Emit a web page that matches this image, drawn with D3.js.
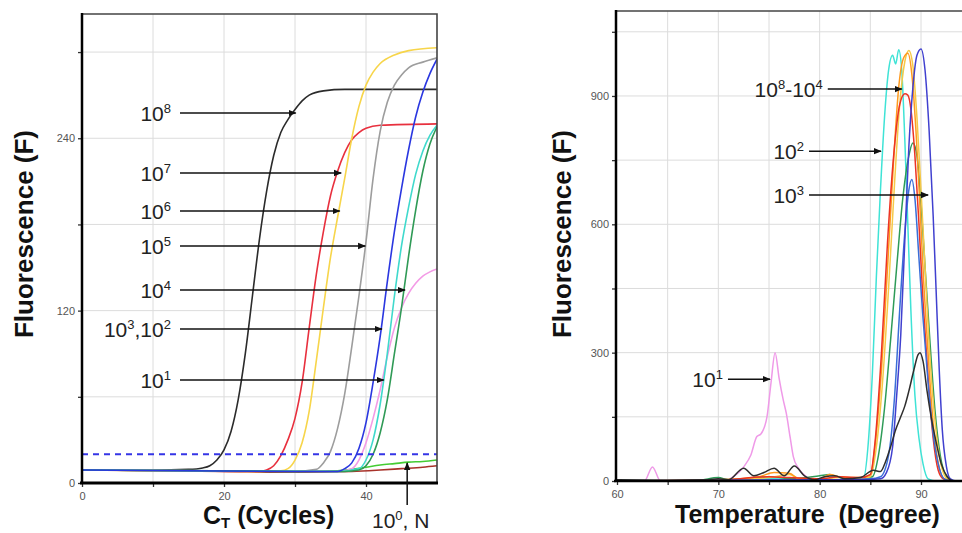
<!DOCTYPE html>
<html><head><meta charset="utf-8">
<script src="https://cdn.jsdelivr.net/npm/d3@7"></script>
<style>body{margin:0;background:#fff}svg{display:block}</style>
</head><body>
<svg id="c" width="962" height="533"></svg>
<script>
// ---------------- LEFT PANEL DATA (cycle, fluorescence) ----------------
const ampBlack  = [[0,9],[10,9],[15,9.5],[17,10.5],[18,12],[19,16],[20,23],[21,36],[22,58],[23,90],[24,130],[25,170],[26,203],[27,228],[28,244],[29,253],[30,260],[31,266],[32,270],[34,273],[37,274],[50,274]];
const ampRed    = [[0,9],[15,8.5],[25,8],[26,9],[27,12],[28,19],[29,30],[30,45],[31,70],[32,108],[33,145],[34,175],[35,200],[36,217],[37,230],[38,239],[39,244],[40,247],[42,249],[50,250]];
const ampYellow = [[0,9],[25,8],[28,8.5],[29,10],[30,16],[31,28],[32,50],[33,85],[34,122],[35,157],[36,185],[37,212],[38,240],[39,262],[40,277],[41,286],[42,292],[44,298],[46,301],[50,303]];
const ampGray   = [[0,9],[30,8],[33,9.5],[34,14],[35,22],[36,38],[37,62],[38,95],[39,130],[40,168],[41,212],[42,245],[43,265],[44,277],[45,284],[46,289],[48,293],[50,296]];
const ampBlue   = [[0,9],[30,8],[36,8],[37,10],[38,14],[39,24],[40,42],[41,70],[42,102],[43,140],[44,175],[45,205],[46,232],[47,255],[48,272],[49,285],[50,295]];
const ampPink   = [[0,9],[36,8],[38,10],[39,16],[40,28],[41,45],[42,65],[43,88],[44,108],[45,122],[46,132],[47,139],[48,144],[49,147],[50,149]];
const ampCyan   = [[0,9],[36,8],[39,10],[40,16],[41,30],[42,55],[43,90],[44,130],[45,165],[46,192],[47,215],[48,231],[49,242],[50,249]];
const ampGreen  = [[0,9],[37,8],[39,9],[40,12],[41,20],[42,35],[43,58],[44,90],[45,122],[46,158],[47,190],[48,217],[49,236],[50,248]];
const ampLime   = [[0,9],[30,8],[36,8.5],[38,9.5],[40,11],[42,12.5],[44,13.5],[46,14.5],[48,15],[50,16]];
const ampBrown  = [[0,9],[20,8],[30,7.5],[38,8],[42,9],[45,10],[48,11],[50,12]];
const threshold = 20;
const leftXTicks = [0,10,20,30,40];
const leftXLabels = [0,20,40];
const leftYTicks = [0,60,120,180,240,300];
const leftYLabels = [0,120,240];

// ---------------- RIGHT PANEL DATA (temperature, fluorescence) ----------------
const meltCyan   = [[60,2],[65,0],[70,3],[75,5],[80,3],[83,2],[84.3,5],[84.8,90],[85.2,250],[85.6,480],[86.0,680],[86.4,850],[86.8,960],[87.2,995],[87.5,975],[87.8,1008],[88.1,960],[88.4,800],[88.7,600],[89.0,400],[89.4,200],[89.8,100],[90.2,40],[90.7,5],[91.5,0],[94.5,0]];
const meltYellow = [[60,0],[70,2],[75,8],[77,15],[78,5],[80,3],[82,8],[84,5],[85.0,10],[85.6,80],[86.2,230],[86.8,450],[87.4,700],[87.9,880],[88.4,980],[88.8,1006],[89.2,970],[89.6,850],[90.0,680],[90.4,500],[90.8,320],[91.3,160],[91.8,60],[92.4,10],[93,0],[94.5,0]];
const meltOrange = [[60,0],[70,3],[74,10],[75.5,20],[77,18],[78,5],[80,5],[81,15],[82,10],[84,8],[85.0,15],[85.5,90],[86.1,260],[86.7,500],[87.3,750],[87.8,920],[88.3,990],[88.7,1000],[89.1,950],[89.5,820],[89.9,640],[90.3,450],[90.8,260],[91.3,110],[91.8,30],[92.3,5],[93,0],[94.5,0]];
const meltRed    = [[60,0],[70,2],[75,10],[77,8],[80,5],[82,10],[84,8],[85.0,15],[85.5,100],[86.1,300],[86.7,560],[87.3,760],[87.9,880],[88.4,905],[88.7,902],[89.0,870],[89.4,760],[89.8,600],[90.2,420],[90.7,240],[91.2,100],[91.7,25],[92.2,5],[93,0],[94.5,0]];
const meltGreen  = [[60,0],[68,2],[70,8],[71,3],[75.5,10],[77,5],[80,12],[81,15],[82,8],[84,6],[85.2,10],[85.8,60],[86.4,170],[87.0,330],[87.6,500],[88.2,660],[88.8,760],[89.2,790],[89.6,760],[90.0,650],[90.4,500],[90.9,320],[91.4,160],[91.9,60],[92.5,10],[93,0],[94.5,0]];
const meltViolet = [[60,0],[70,2],[80,3],[84,3],[86.0,5],[86.6,20],[87.2,80],[87.6,200],[88.0,340],[88.4,560],[88.8,780],[89.2,920],[89.6,995],[90.0,1010],[90.4,960],[90.8,820],[91.2,620],[91.5,440],[91.8,260],[92.1,120],[92.5,35],[92.9,5],[93.5,0],[94.5,0]];
const meltAzure  = [[60,0],[80,2],[85,5],[86.0,10],[86.8,60],[87.4,200],[87.9,400],[88.4,580],[88.8,680],[89.1,705],[89.4,660],[89.8,520],[90.2,380],[90.7,230],[91.2,110],[91.7,40],[92.3,5],[93,0],[94.5,0]];
const meltBlack  = [[60,3],[65,2],[69,3],[70,5],[71,3],[72.5,30],[73.5,12],[74.5,20],[75.5,30],[76.5,12],[77.5,35],[78.5,12],[79.5,3],[80.5,10],[81.5,12],[82.5,5],[84,8],[85.3,25],[86.0,22],[86.5,45],[87.0,80],[87.5,120],[88.0,150],[88.4,175],[88.8,210],[89.3,260],[89.7,295],[89.9,300],[90.2,280],[90.6,210],[91.0,150],[91.5,90],[92.0,40],[92.6,10],[93.2,0],[94.5,0]];
const meltPink   = [[60,0],[62.7,0],[63.5,33],[64.3,0],[70.5,0],[71.5,10],[72.5,33],[73.2,60],[73.8,104],[74.2,110],[74.8,150],[75.2,230],[75.6,300],[76.0,240],[76.4,190],[76.7,159],[77.1,100],[77.4,57],[77.9,30],[78.7,10],[79.5,0],[94.5,0]];
const rightXTicks = [60,65,70,75,80,85,90];
const rightXLabels = [60,70,80,90];
const rightYTicks = [0,150,300,450,600,750,900,1050];
const rightYLabels = [0,300,600,900];

// ---------------- DRAWING ----------------
const FONT = "'Liberation Sans', Arial, sans-serif";
const svg = d3.select('#c');

const defs = svg.append('defs');
defs.append('marker').attr('id','ah').attr('viewBox','0 0 10 10').attr('refX',9).attr('refY',5)
  .attr('markerWidth',8).attr('markerHeight',8).attr('markerUnits','userSpaceOnUse').attr('orient','auto')
  .append('path').attr('d','M0,1 L10,5 L0,9 Z').attr('fill','#111');

function sup(g, x, y, parts, anchor, size){
  const t = g.append('text').attr('x',x).attr('y',y).attr('text-anchor',anchor||'start')
    .attr('font-family',FONT).attr('font-size',size||21).attr('fill','#222');
  let raised = false;
  parts.forEach(p=>{
    const s = t.append('tspan').text(p.t);
    if(p.s){ s.attr('font-size',13).attr('dy', raised? 0 : -8); raised = true; }
    else { if(raised){ s.attr('dy',8); raised=false; } }
  });
  return t;
}

// ===== Left panel =====
const xL = d3.scaleLinear().domain([0,50]).range([82,437]);
const yL = d3.scaleLinear().domain([0,326.5]).range([483,14]);
const gL = svg.append('g');
defs.append('clipPath').attr('id','clipL').append('rect')
  .attr('x',xL(0)).attr('y',yL(326.5)).attr('width',xL(50)-xL(0)).attr('height',yL(0)-yL(326.5));

gL.selectAll('.vg').data(leftXTicks.filter(d=>d>0)).join('line')
  .attr('x1',d=>xL(d)).attr('x2',d=>xL(d)).attr('y1',yL(0)).attr('y2',yL(326.5))
  .attr('stroke','#dcdcdc').attr('stroke-width',1);
gL.selectAll('.hg').data(leftYTicks.filter(d=>d>0)).join('line')
  .attr('x1',xL(0)).attr('x2',xL(50)).attr('y1',d=>yL(d)).attr('y2',d=>yL(d))
  .attr('stroke','#dcdcdc').attr('stroke-width',1);

const lineL = d3.line().x(d=>xL(d[0])).y(d=>yL(d[1])).curve(d3.curveMonotoneX);
const leftSeries = [
  [ampBrown,'#a8322a'],[ampLime,'#44cc33'],[ampBlack,'#2b2b2b'],[ampRed,'#e8303e'],[ampYellow,'#f7d54a'],
  [ampGray,'#9d9d9d'],[ampPink,'#f39be6'],[ampCyan,'#3fd9cc'],[ampGreen,'#2f9a56'],[ampBlue,'#2a37e0']
];
const gLc = gL.append('g').attr('clip-path','url(#clipL)');
gLc.selectAll('path').data(leftSeries).join('path')
  .attr('d',d=>lineL(d[0])).attr('fill','none').attr('stroke',d=>d[1]).attr('stroke-width',1.6);
gLc.append('line').attr('x1',xL(0)).attr('x2',xL(50)).attr('y1',yL(threshold)).attr('y2',yL(threshold))
  .attr('stroke','#3535e6').attr('stroke-width',2).attr('stroke-dasharray','6,5');

// frame
gL.append('path').attr('d',`M${xL(0)},${yL(326.5)} H${xL(50)} V${yL(0)}`).attr('fill','none').attr('stroke','#444').attr('stroke-width',1.6);
const axLX = gL.append('g').attr('transform',`translate(0,${yL(0)})`)
  .call(d3.axisBottom(xL).tickValues(leftXTicks).tickFormat(d=>leftXLabels.includes(d)?d:'').tickSize(4).tickPadding(5));
const axLY = gL.append('g').attr('transform',`translate(${xL(0)},0)`)
  .call(d3.axisLeft(yL).tickValues(leftYTicks).tickFormat(d=>leftYLabels.includes(d)?d:'').tickSize(4).tickPadding(3));
[axLX,axLY].forEach(a=>{a.select('.domain').remove(); a.selectAll('line').attr('stroke','#333').attr('stroke-width',1.3);
  a.selectAll('text').attr('font-family',FONT).attr('font-size',11).attr('fill','#555');});
gL.append('line').attr('x1',xL(0)).attr('x2',xL(0)).attr('y1',yL(326.5)-1).attr('y2',yL(0)).attr('stroke','#000').attr('stroke-width',2.5);
gL.append('line').attr('x1',xL(0)-2).attr('x2',xL(50)+1).attr('y1',yL(0)).attr('y2',yL(0)).attr('stroke','#000').attr('stroke-width',3);

// titles
svg.append('text').attr('transform','translate(33,234) rotate(-90)').attr('text-anchor','middle')
  .attr('font-family',FONT).attr('font-weight','bold').attr('font-size',26).attr('fill','#111').text('Fluorescence (F)');
const ct = svg.append('text').attr('x',203).attr('y',524).attr('font-family',FONT).attr('font-weight','bold').attr('font-size',25).attr('fill','#111');
ct.append('tspan').text('C');
ct.append('tspan').text('T').attr('font-size',15).attr('dy',4);
ct.append('tspan').text('\u00a0(Cycles)').attr('dy',-4);

// annotations left: [parts, arrow value, start cycle, tip cycle]
const annL = [
  [[{t:'10'},{t:'8',s:1}], 257.5, 13.8, 30.1],
  [[{t:'10'},{t:'7',s:1}], 215.8, 13.8, 36.5],
  [[{t:'10'},{t:'6',s:1}], 189.3, 13.8, 36.3],
  [[{t:'10'},{t:'5',s:1}], 165.0, 13.8, 39.9],
  [[{t:'10'},{t:'4',s:1}], 134.3, 13.8, 45.5],
  [[{t:'10'},{t:'3',s:1},{t:',10'},{t:'2',s:1}], 107.2, 13.8, 42.25],
  [[{t:'10'},{t:'1',s:1}], 71.7, 13.8, 42.5]
];
annL.forEach(a=>{
  gL.append('line').attr('x1',xL(a[2])).attr('x2',xL(a[3])).attr('y1',yL(a[1])).attr('y2',yL(a[1]))
    .attr('stroke','#111').attr('stroke-width',1.5).attr('marker-end','url(#ah)');
  sup(gL, xL(a[2])-9, yL(a[1])+8, a[0], 'end');
});
// 10^0, N
svg.append('line').attr('x1',xL(45.8)).attr('x2',xL(45.8)).attr('y1',505).attr('y2',yL(14))
  .attr('stroke','#111').attr('stroke-width',1.5).attr('marker-end','url(#ah)');
sup(svg, 372, 528, [{t:'10'},{t:'0',s:1},{t:', N'}], 'start');

// ===== Right panel =====
const xR = d3.scaleLinear().domain([60,94.5]).range([617,966.6]);
const yR = d3.scaleLinear().domain([0,1098.6]).range([481,11]);
const gR = svg.append('g');
defs.append('clipPath').attr('id','clipR').append('rect')
  .attr('x',xR(60)).attr('y',yR(1098.6)).attr('width',xR(94.5)-xR(60)).attr('height',yR(0)-yR(1098.6));
gR.selectAll('.vg').data(rightXTicks.filter(d=>d>60)).join('line')
  .attr('x1',d=>xR(d)).attr('x2',d=>xR(d)).attr('y1',yR(0)).attr('y2',yR(1098.6))
  .attr('stroke','#dcdcdc').attr('stroke-width',1);
gR.selectAll('.hg').data(rightYTicks.filter(d=>d>0)).join('line')
  .attr('x1',xR(60)).attr('x2',xR(94.5)).attr('y1',d=>yR(d)).attr('y2',d=>yR(d))
  .attr('stroke','#dcdcdc').attr('stroke-width',1);

const lineR = d3.line().x(d=>xR(d[0])).y(d=>yR(d[1])).curve(d3.curveMonotoneX);
const rightSeries = [
  [meltPink,'#ef9ae8'],[meltCyan,'#3fe3d6'],[meltGreen,'#2e9b58'],[meltYellow,'#f5c948'],[meltOrange,'#ff9a1e'],
  [meltRed,'#ec3424'],[meltAzure,'#3a6ed8'],[meltViolet,'#4040cf'],[meltBlack,'#2e2e2e']
];
const gRc = gR.append('g').attr('clip-path','url(#clipR)');
gRc.selectAll('path').data(rightSeries).join('path')
  .attr('d',d=>lineR(d[0])).attr('fill','none').attr('stroke',d=>d[1]).attr('stroke-width',1.5);

gR.append('line').attr('x1',xR(60)).attr('x2',962).attr('y1',yR(1098.6)).attr('y2',yR(1098.6)).attr('stroke','#444').attr('stroke-width',1.6);
const axRX = gR.append('g').attr('transform',`translate(0,${yR(0)})`)
  .call(d3.axisBottom(xR).tickValues(rightXTicks).tickFormat(d=>rightXLabels.includes(d)?d:'').tickSize(4).tickPadding(5));
const axRY = gR.append('g').attr('transform',`translate(${xR(60)-1},0)`)
  .call(d3.axisLeft(yR).tickValues(rightYTicks).tickFormat(d=>rightYLabels.includes(d)?d:'').tickSize(4).tickPadding(3));
[axRX,axRY].forEach(a=>{a.select('.domain').remove(); a.selectAll('line').attr('stroke','#333').attr('stroke-width',1.3);
  a.selectAll('text').attr('font-family',FONT).attr('font-size',11).attr('fill','#555');});
gR.append('line').attr('x1',xR(60)-1).attr('x2',xR(60)-1).attr('y1',yR(1098.6)-1).attr('y2',yR(0)).attr('stroke','#000').attr('stroke-width',2.5);
gR.append('line').attr('x1',xR(60)-3).attr('x2',962).attr('y1',yR(0)).attr('y2',yR(0)).attr('stroke','#000').attr('stroke-width',2.5);

svg.append('text').attr('transform','translate(571,234) rotate(-90)').attr('text-anchor','middle')
  .attr('font-family',FONT).attr('font-weight','bold').attr('font-size',26).attr('fill','#111').text('Fluorescence (F)');
svg.append('text').attr('x',675).attr('y',523).attr('font-family',FONT).attr('font-weight','bold').attr('font-size',25).attr('fill','#111').text('Temperature\u00a0 (Degree)');

const annR = [
  [[{t:'10'},{t:'8',s:1},{t:'-10'},{t:'4',s:1}], 916, 80.8, 88.1],
  [[{t:'10'},{t:'2',s:1}], 771, 78.95, 86.05],
  [[{t:'10'},{t:'3',s:1}], 668.5, 78.95, 90.7],
  [[{t:'10'},{t:'1',s:1}], 238, 70.95, 75.1]
];
annR.forEach(a=>{
  gR.append('line').attr('x1',xR(a[2])).attr('x2',xR(a[3])).attr('y1',yR(a[1])).attr('y2',yR(a[1]))
    .attr('stroke','#111').attr('stroke-width',1.5).attr('marker-end','url(#ah)');
  sup(gR, xR(a[2])-5, yR(a[1])+8, a[0], 'end');
});
</script>
</body></html>
